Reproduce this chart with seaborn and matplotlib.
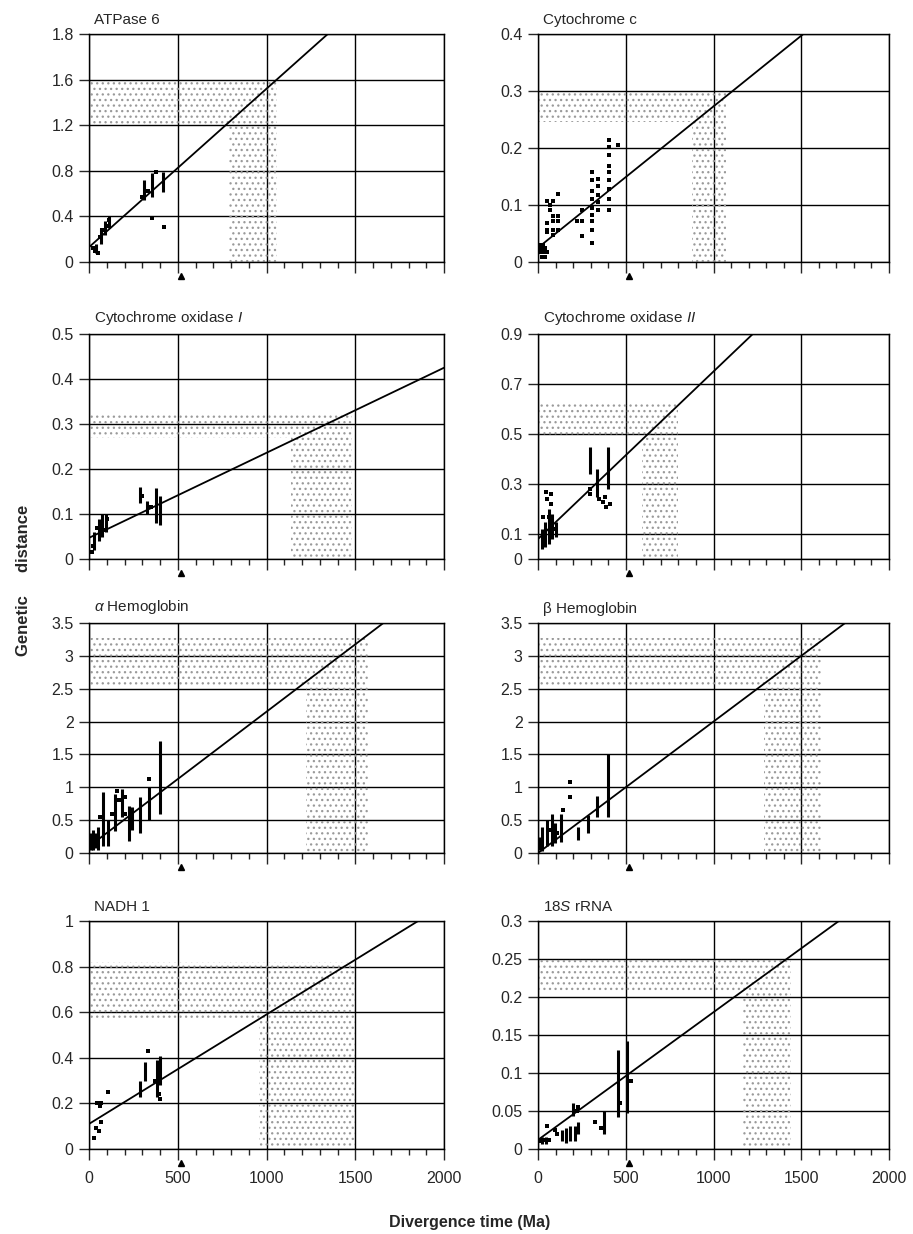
import numpy as np
import matplotlib.pyplot as plt
import seaborn as sns
from matplotlib.patches import Polygon
from matplotlib.ticker import MultipleLocator

# ---- data (x = divergence time, Ma; y = genetic distance) ----

# ATPase 6
atp_pt_x = [20, 35, 50, 60, 75, 95, 110, 356, 424, 300, 330, 380]
atp_pt_y = [0.12, 0.10, 0.08, 0.22, 0.28, 0.32, 0.37, 0.39, 0.31, 0.57, 0.62, 0.79]
atp_bar_x = [40, 70, 90, 115, 310, 355, 415]
atp_bar_lo = [0.08, 0.16, 0.24, 0.30, 0.54, 0.57, 0.61]
atp_bar_hi = [0.16, 0.30, 0.36, 0.40, 0.72, 0.78, 0.79]
atp_fit = (0.13, 0.00139)
atp_shade = (790, 1060, 1.2, 1.6)
atp_yticks = [0, 0.4, 0.8, 1.2, 1.6, 2.0]
atp_ylabels = ['0', '0.4', '0.8', '1.2', '1.6', '1.8']

# Cytochrome c
cytc_pt_x = [15, 30, 15, 40, 15, 35, 50, 20, 40,
             49, 49, 49, 49, 68, 68,
             83, 83, 83, 83, 83, 116, 116, 116, 116,
             220, 249, 249, 249,
             306, 306, 306, 306, 306, 306, 306, 306, 306,
             344, 344, 344, 344, 344,
             405, 405, 405, 405, 405, 405, 405, 405, 405, 458]
cytc_pt_y = [0.030, 0.030, 0.025, 0.025, 0.018, 0.018, 0.018, 0.009, 0.009,
             0.107, 0.069, 0.057, 0.052, 0.100, 0.092,
             0.107, 0.080, 0.072, 0.057, 0.048, 0.119, 0.080, 0.072, 0.057,
             0.072, 0.092, 0.072, 0.045,
             0.158, 0.143, 0.125, 0.110, 0.095, 0.083, 0.072, 0.057, 0.033,
             0.146, 0.134, 0.117, 0.105, 0.092,
             0.214, 0.202, 0.187, 0.169, 0.158, 0.143, 0.128, 0.110, 0.092, 0.205]
cytc_bar_x = []
cytc_bar_lo = []
cytc_bar_hi = []
cytc_fit = (0.025, 0.000248)
cytc_shade = (880, 1070, 0.245, 0.3)
cytc_yticks = [0, 0.1, 0.2, 0.3, 0.4]
cytc_ylabels = ['0', '0.1', '0.2', '0.3', '0.4']

# Cytochrome oxidase I
coxi_pt_x = [17, 25, 45, 60, 80, 100, 300, 350]
coxi_pt_y = [0.016, 0.030, 0.070, 0.080, 0.065, 0.090, 0.140, 0.115]
coxi_bar_x = [30, 55, 75, 95, 290, 325, 380, 400]
coxi_bar_lo = [0.02, 0.04, 0.05, 0.06, 0.125, 0.10, 0.08, 0.075]
coxi_bar_hi = [0.06, 0.09, 0.10, 0.10, 0.16, 0.13, 0.158, 0.14]
coxi_fit = (0.047, 0.000189)
coxi_shade = (1140, 1480, 0.27, 0.32)
coxi_yticks = [0, 0.1, 0.2, 0.3, 0.4, 0.5]
coxi_ylabels = ['0', '0.1', '0.2', '0.3', '0.4', '0.5']

# Cytochrome oxidase II
coxii_pt_x = [45, 50, 75, 75, 30, 60, 296, 296, 350, 370, 390, 380, 410, 70, 90]
coxii_pt_y = [0.27, 0.24, 0.26, 0.22, 0.17, 0.17, 0.28, 0.26, 0.24, 0.23, 0.21, 0.25, 0.22, 0.10, 0.12]
coxii_bar_x = [20, 40, 60, 80, 100, 296, 334, 400]
coxii_bar_lo = [0.04, 0.05, 0.06, 0.08, 0.09, 0.34, 0.25, 0.28]
coxii_bar_hi = [0.12, 0.15, 0.20, 0.18, 0.15, 0.45, 0.36, 0.45]
coxii_fit = (0.08, 0.00067)
coxii_shade = (590, 800, 0.49, 0.63)
coxii_yticks = [0, 0.1, 0.3, 0.5, 0.7, 0.9]
coxii_ylabels = ['0', '0.1', '0.3', '0.5', '0.7', '0.9']

# alpha Hemoglobin
ahb_pt_x = [336, 130, 160, 170, 60, 200, 205]
ahb_pt_y = [1.13, 0.60, 0.95, 0.80, 0.55, 0.85, 0.60]
ahb_bar_x = [10, 25, 40, 52, 80, 107, 147, 185, 223, 242, 289, 336, 398]
ahb_bar_lo = [0.05, 0.05, 0.08, 0.05, 0.10, 0.10, 0.33, 0.55, 0.19, 0.35, 0.30, 0.50, 0.60]
ahb_bar_hi = [0.30, 0.35, 0.30, 0.40, 0.93, 0.50, 0.90, 0.97, 0.72, 0.70, 0.85, 1.00, 1.70]
ahb_fit = (0.1, 0.00205)
ahb_shade = (1220, 1570, 2.55, 3.27)
hb_yticks = [0, 0.5, 1, 1.5, 2, 2.5, 3, 3.5]
hb_ylabels = ['0', '0.5', '1', '1.5', '2', '2.5', '3', '3.5']

# beta Hemoglobin
bhb_pt_x = [182, 182, 60, 110, 140]
bhb_pt_y = [1.08, 0.85, 0.35, 0.30, 0.65]
bhb_bar_x = [10, 25, 49, 78, 97, 131, 230, 287, 334, 397]
bhb_bar_lo = [0.05, 0.03, 0.10, 0.10, 0.15, 0.17, 0.20, 0.30, 0.55, 0.55]
bhb_bar_hi = [0.25, 0.40, 0.50, 0.60, 0.45, 0.60, 0.40, 0.58, 0.87, 1.50]
bhb_fit = (0.0, 0.002)
bhb_shade = (1290, 1610, 2.55, 3.27)

# NADH 1
nadh_pt_x = [30, 38, 57, 66, 45, 55, 68, 60, 109, 335, 395, 400, 370]
nadh_pt_y = [0.05, 0.09, 0.08, 0.12, 0.20, 0.20, 0.20, 0.19, 0.25, 0.43, 0.24, 0.22, 0.30]
nadh_bar_x = [288, 316, 382, 401]
nadh_bar_lo = [0.23, 0.30, 0.23, 0.28]
nadh_bar_hi = [0.30, 0.38, 0.39, 0.41]
nadh_fit = (0.11, 0.00048)
nadh_shade = (960, 1500, 0.57, 0.82)
nadh_yticks = [0, 0.2, 0.4, 0.6, 0.8, 1.0]
nadh_ylabels = ['0', '0.2', '0.4', '0.6', '0.8', '1']

# 18S rRNA
rrna_pt_x = [5, 30, 51, 60, 97, 110, 323, 360, 230, 220, 530, 470]
rrna_pt_y = [0.010, 0.012, 0.030, 0.012, 0.025, 0.020, 0.035, 0.028, 0.055, 0.050, 0.090, 0.060]
rrna_bar_x = [20, 45, 135, 160, 185, 201, 211, 230, 374, 458, 507]
rrna_bar_lo = [0.006, 0.006, 0.010, 0.008, 0.010, 0.044, 0.010, 0.020, 0.020, 0.042, 0.048]
rrna_bar_hi = [0.016, 0.016, 0.025, 0.028, 0.030, 0.060, 0.030, 0.035, 0.050, 0.130, 0.142]
rrna_fit = (0.012, 0.000168)
rrna_shade = (1170, 1440, 0.205, 0.25)
rrna_yticks = [0, 0.05, 0.1, 0.15, 0.2, 0.25, 0.3]
rrna_ylabels = ['0', '0.05', '0.1', '0.15', '0.2', '0.25', '0.3']

arrow_x = 520   # marker under each x axis

titles = ['ATPase 6', 'Cytochrome c', 'Cytochrome oxidase $\\it{I}$', 'Cytochrome oxidase $\\it{II}$',
          '$\\it{\\alpha}$ Hemoglobin', '\u03b2 Hemoglobin', 'NADH 1', '18$\\it{S}$ rRNA']

panels = [
    (atp_pt_x, atp_pt_y, atp_bar_x, atp_bar_lo, atp_bar_hi, atp_fit, atp_shade, atp_yticks, atp_ylabels),
    (cytc_pt_x, cytc_pt_y, cytc_bar_x, cytc_bar_lo, cytc_bar_hi, cytc_fit, cytc_shade, cytc_yticks, cytc_ylabels),
    (coxi_pt_x, coxi_pt_y, coxi_bar_x, coxi_bar_lo, coxi_bar_hi, coxi_fit, coxi_shade, coxi_yticks, coxi_ylabels),
    (coxii_pt_x, coxii_pt_y, coxii_bar_x, coxii_bar_lo, coxii_bar_hi, coxii_fit, coxii_shade, coxii_yticks, coxii_ylabels),
    (ahb_pt_x, ahb_pt_y, ahb_bar_x, ahb_bar_lo, ahb_bar_hi, ahb_fit, ahb_shade, hb_yticks, hb_ylabels),
    (bhb_pt_x, bhb_pt_y, bhb_bar_x, bhb_bar_lo, bhb_bar_hi, bhb_fit, bhb_shade, hb_yticks, hb_ylabels),
    (nadh_pt_x, nadh_pt_y, nadh_bar_x, nadh_bar_lo, nadh_bar_hi, nadh_fit, nadh_shade, nadh_yticks, nadh_ylabels),
    (rrna_pt_x, rrna_pt_y, rrna_bar_x, rrna_bar_lo, rrna_bar_hi, rrna_fit, rrna_shade, rrna_yticks, rrna_ylabels),
]

# ---- style ----
sns.set_style("white")
plt.rcParams['font.family'] = ['Liberation Sans', 'DejaVu Sans']
plt.rcParams['mathtext.fontset'] = 'custom'
plt.rcParams['mathtext.rm'] = 'Liberation Sans'
plt.rcParams['mathtext.it'] = 'Liberation Sans:italic'
plt.rcParams['hatch.linewidth'] = 0.9

W, H = 913, 1234
fig = plt.figure(figsize=(W / 100, H / 100), dpi=100)

col_px = [(89, 444), (538, 889)]          # left/right edges of axes, px
row_px = [(34, 262), (334, 559), (623, 853), (921, 1149)]   # top/bottom edges, px

for i, (px_, py_, bx, blo, bhi, fit, shade, yt, yl) in enumerate(panels):
    r, c = divmod(i, 2)
    x0, x1 = col_px[c]
    t, b = row_px[r]
    ax = fig.add_axes([x0 / W, 1 - b / H, (x1 - x0) / W, (b - t) / H])

    # stippled L-shaped region
    sx0, sx1, sy0, sy1 = shade
    poly = Polygon([(0, sy0), (sx0, sy0), (sx0, 0), (sx1, 0), (sx1, sy1), (0, sy1)],
                   closed=True, facecolor='none', edgecolor='#9a9a9a', lw=0,
                   hatch='...', zorder=0.8)
    ax.add_patch(poly)

    if bx:
        ax.vlines(bx, blo, bhi, color='black', lw=2.2, zorder=3)
    sns.scatterplot(x=px_, y=py_, ax=ax, color='black', marker='s', s=8,
                    linewidth=0, zorder=3, legend=False)

    xs = np.array([0, 2000])
    sns.lineplot(x=xs, y=fit[0] + fit[1] * xs, ax=ax, color='black', lw=1.3, zorder=4)

    ax.plot([arrow_x], [-0.06], marker='^', color='black', ms=5,
            transform=ax.get_xaxis_transform(), clip_on=False)

    ax.set_xlim(0, 2000)
    ax.set_ylim(0, yt[-1])
    ax.set_xticks([0, 500, 1000, 1500, 2000])
    ax.xaxis.set_minor_locator(MultipleLocator(100))
    ax.set_yticks(yt)
    ax.set_yticklabels(yl)
    ax.set_axisbelow(True)
    ax.grid(True, which='major', color='black', lw=1.0)
    ax.grid(False, which='minor')
    ax.tick_params(axis='x', which='major', bottom=True, direction='out', length=8,
                   width=1, labelsize=11.5, pad=8, labelbottom=(r == 3))
    ax.tick_params(axis='x', which='minor', bottom=True, direction='out', length=4.5, width=1)
    ax.tick_params(axis='y', left=True, direction='out', length=7, width=1,
                   labelsize=11.5, pad=4)
    for s in ax.spines.values():
        s.set_visible(True)
        s.set_color('black')
        s.set_linewidth(1.0)
    ax.set_xlabel('')
    ax.set_ylabel('')
    ax.text(0.015, 1.03, titles[i], transform=ax.transAxes, fontsize=11,
            ha='left', va='bottom')

fig.text(24 / W, 1 - 580 / H, 'Genetic     distance', rotation=90, fontsize=12,
         fontweight='bold', ha='center', va='center')
fig.text(470 / W, 1 - 1222 / H, 'Divergence time (Ma)', fontsize=11.5,
         fontweight='bold', ha='center', va='center')

fig.savefig('out.png', dpi=100)
